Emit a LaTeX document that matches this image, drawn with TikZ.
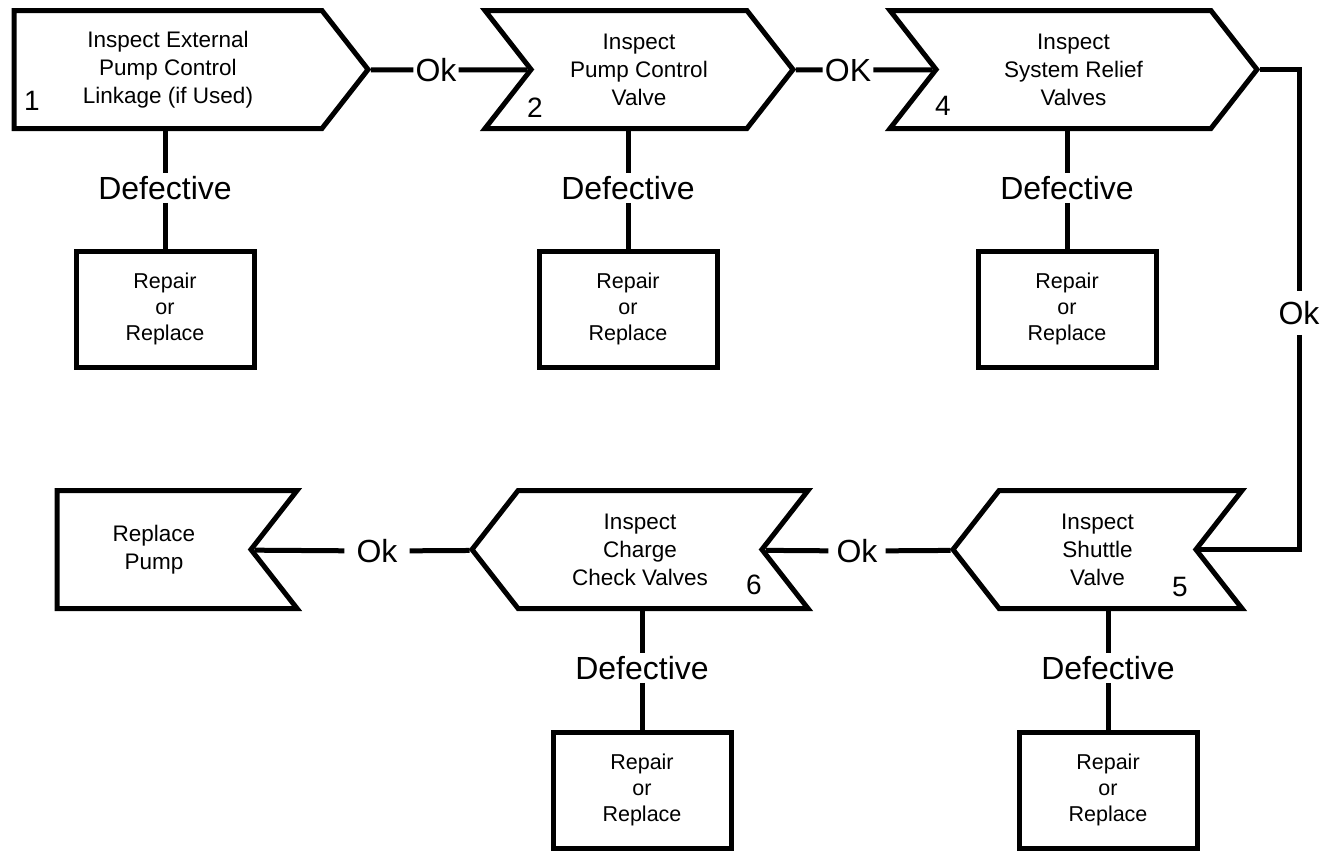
\documentclass[tikz,border=0pt]{standalone}
\usepackage{fontspec}
\setmainfont{Liberation Sans}
\usetikzlibrary{shapes.symbols,positioning}

\begin{document}
\begin{tikzpicture}[x=1pt,y=-1pt,
  stp/.style={draw,line width=5pt,shape=signal,signal pointer angle=104,
    minimum height=118pt,inner sep=0pt,align=center,
    font=\fontsize{22.5}{28}\selectfont},
  fix/.style={draw,line width=5pt,minimum width=178pt,minimum height=116pt,
    align=center,font=\fontsize{21.5}{26}\selectfont},
  lab/.style={font=\fontsize{32}{32}\selectfont,inner sep=3pt},
  num/.style={font=\fontsize{28}{28}\selectfont,inner sep=0pt},
  ln/.style={line width=5pt}]
\useasboundingbox (0,0) rectangle (1330,852);
% top row
\node[stp,signal to=east,minimum width=354pt] (s1) at (168,69.5)
  {Inspect External\\Pump Control\\Linkage (if Used)};
\node[stp,signal from=west,signal to=east,minimum width=308pt] (s2) at (639,69.5)
  {Inspect\\Pump Control\\Valve};
\node[stp,signal from=west,signal to=east,minimum width=367pt] (s4) at (1073.5,69.5)
  {Inspect\\System Relief\\Valves};
\node[num] (n1) at (32,101) {1};
\node[num] (n2) at (535,108) {2};
\node[num] (n4) at (943,106) {4};
% bottom row
\node[stp,signal from=east,signal to=west,minimum width=289pt] (s5) at (1097.5,549.5)
  {Inspect\\Shuttle\\Valve};
\node[stp,signal from=east,signal to=west,minimum width=336pt] (s6) at (640,549.5)
  {Inspect\\Charge\\Check Valves};
\node[stp,signal from=east,signal to=nowhere,minimum width=240pt] (rp) at (154,549.5)
  {Replace\\Pump};
\node[num] (n5) at (1180,587) {5};
\node[num] (n6) at (754,585) {6};
% ok labels
\node[lab,inner xsep=2pt] (ok1) at (436,70) {Ok};
\node[lab,inner xsep=2pt] (ok2) at (848,70) {OK};
\node[lab,inner ysep=10pt] (ok4) at (1299,313) {Ok};
\node[lab,inner xsep=8pt] (ok5) at (857,551) {Ok};
\node[lab,inner xsep=12pt] (ok6) at (377,551) {Ok};
% defective branches
\node[lab] (d1) at (165,188) {Defective};
\node[lab] (d2) at (628,188) {Defective};
\node[lab] (d4) at (1067,188) {Defective};
\node[lab] (d6) at (642,668) {Defective};
\node[lab] (d5) at (1108,668) {Defective};
\node[fix] (r1) at (165,309) {Repair\\or\\Replace};
\node[fix] (r2) at (628,309) {Repair\\or\\Replace};
\node[fix] (r4) at (1067,309) {Repair\\or\\Replace};
\node[fix] (r6) at (642,790) {Repair\\or\\Replace};
\node[fix] (r5) at (1108,790) {Repair\\or\\Replace};
% connectors
\draw[ln] (s1) -- (ok1);
\draw[ln] (ok1) -- (s2);
\draw[ln] (s2) -- (ok2);
\draw[ln] (ok2) -- (s4);
\draw[ln] (s4) -| (ok4);
\draw[ln] (ok4) |- (s5);
\draw[ln] (s5) -- (ok5);
\draw[ln] (ok5) -- (s6);
\draw[ln] (s6) -- (ok6);
\draw[ln] (ok6) -- (rp);
\foreach \i in {1,2,4}{
  \draw[ln] (d\i.north |- s\i.south) -- (d\i);
  \draw[ln] (d\i) -- (r\i);
}
\foreach \i in {5,6}{
  \draw[ln] (d\i.north |- s\i.south) -- (d\i);
  \draw[ln] (d\i) -- (r\i);
}
\end{tikzpicture}
\end{document}
